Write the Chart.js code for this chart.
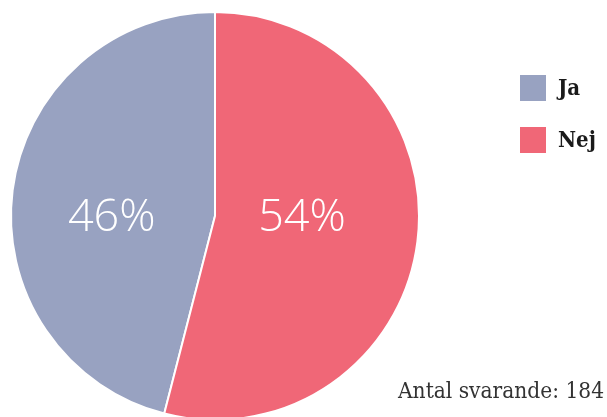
<!DOCTYPE html>
<html>
<head>
<meta charset="utf-8">
<script src="https://cdn.jsdelivr.net/npm/chart.js@4/dist/chart.umd.min.js"></script>
<style>
  html, body { margin: 0; padding: 0; background: #fff; }
  #wrap { width: 607px; height: 417px; position: relative; }
</style>
</head>
<body>
<div id="wrap"><canvas id="ChartPie"></canvas></div>
<script>
// Data
const answers = ['Ja', 'Nej'];
const shares = [46, 54];
const totalRespondents = 184;
const sliceColors = ['#98a2c1', '#f06777'];

// percent labels inside the slices + legend at the right + count at the bottom
const pieText = {
  id: 'pieText',
  afterDraw(chart) {
    const ctx = chart.ctx;
    const meta = chart.getDatasetMeta(0);
    ctx.save();

    // percentages
    ctx.fillStyle = '#ffffff';
    ctx.font = '300 45px "Open Sans", Lato, sans-serif';
    ctx.textAlign = 'center';
    ctx.textBaseline = 'middle';
    const factor = [0.51, 0.43];
    meta.data.forEach(function(arc, i) {
      const mid = (arc.startAngle + arc.endAngle) / 2;
      const x = arc.x + Math.cos(mid) * arc.outerRadius * factor[i];
      ctx.fillText(shares[i] + '%', x, arc.y + 2);
    });

    // legend
    ctx.textAlign = 'left';
    ctx.font = 'bold 22px "DejaVu Serif Condensed", "DejaVu Serif", serif';
    answers.forEach(function(label, i) {
      const top = 75 + i * 52;
      ctx.fillStyle = sliceColors[i];
      ctx.fillRect(520, top, 26, 26);
      ctx.fillStyle = '#1a1a1a';
      ctx.fillText(label, 558, top + 14);
    });

    // respondents
    ctx.font = '300 23px "DejaVu Serif Condensed", "DejaVu Serif", serif';
    ctx.fillStyle = '#333333';
    ctx.textAlign = 'right';
    ctx.textBaseline = 'alphabetic';
    ctx.fillText('Antal svarande: ' + totalRespondents, 604, 398, 206);
    ctx.restore();
  }
};

const ctx = document.getElementById('ChartPie').getContext('2d');
const myChart = new Chart(ctx, {
  type: 'pie',
  data: {
    labels: answers,
    datasets: [{
      data: shares,
      backgroundColor: sliceColors,
      borderColor: '#ffffff',
      borderWidth: 2,
      radius: 204,
      clip: false
    }]
  },
  options: {
    responsive: true,
    maintainAspectRatio: false,
    animation: false,
    // Ja starts where Nej ends, so Nej runs clockwise from the top
    rotation: 360 * shares[1] / 100,
    layout: {
      padding: { left: 0, right: 177, top: 15, bottom: 0 }
    },
    plugins: {
      legend: { display: false },
      tooltip: { enabled: false }
    }
  },
  plugins: [pieText]
});
</script>
</body>
</html>
